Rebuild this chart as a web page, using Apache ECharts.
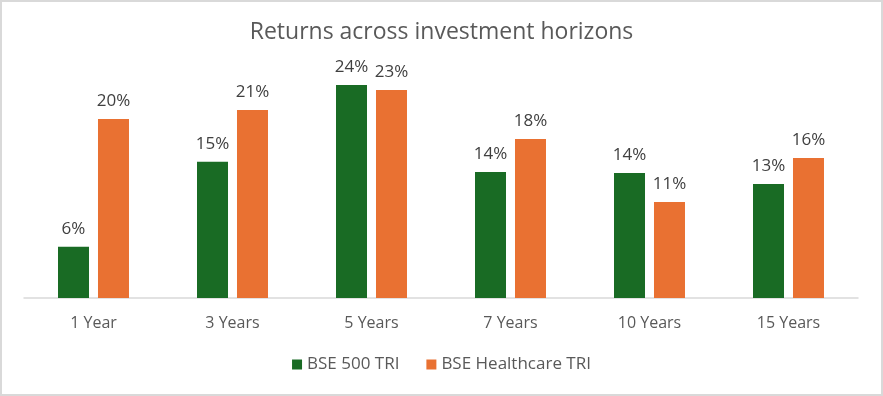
<!DOCTYPE html>
<html>
<head>
<meta charset="utf-8">
<script src="https://cdn.jsdelivr.net/npm/echarts@6/dist/echarts.min.js"></script>
<style>
html,body{margin:0;padding:0;background:#fff;}
#c{width:883px;height:396px;}
</style>
</head>
<body>
<div id="c"></div>
<script>
const categories = ['1 Year', '3 Years', '5 Years', '7 Years', '10 Years', '15 Years'];
const bse500 = [5.73, 15.23, 23.8, 14.08, 13.97, 12.74];
const healthcare = [20.0, 21.0, 23.24, 17.77, 10.73, 15.64];
const seriesNames = ['BSE 500 TRI', 'BSE Healthcare TRI'];
const titleText = 'Returns across investment horizons';

const FONT = '"Open Sans", "Liberation Sans", sans-serif';
const chart = echarts.init(document.getElementById('c'));
const labelCfg = {
  show: true, position: 'top', distance: 9,
  color: '#404040', fontSize: 17, fontFamily: FONT,
  formatter: p => Math.round(p.value) + '%'
};
chart.setOption({
  animation: false,
  backgroundColor: '#fff',
  title: {
    text: titleText, left: 'center', top: 16,
    textStyle: {color: '#595959', fontSize: 23, fontWeight: 'normal', fontFamily: FONT}
  },
  legend: {
    data: seriesNames, bottom: 18, left: 'center',
    itemWidth: 10, itemHeight: 10, itemGap: 27, icon: 'rect',
    textStyle: {color: '#595959', fontSize: 17, fontFamily: FONT}
  },
  grid: {left: 24, right: 25, top: 74.25, bottom: 98, containLabel: false},
  xAxis: {
    type: 'category', data: categories,
    axisLine: {lineStyle: {color: '#d9d9d9', width: 1.5}},
    axisTick: {show: false},
    axisLabel: {color: '#595959', fontSize: 16, fontFamily: FONT, margin: 17}
  },
  yAxis: {type: 'value', min: 0, max: 25, show: false, splitLine: {show: false}},
  graphic: [{
    type: 'rect', shape: {x: 1, y: 1, width: 881, height: 394},
    style: {fill: 'none', stroke: '#d9d9d9', lineWidth: 2}, silent: true, z: -1
  }],
  series: [
    {name: seriesNames[0], type: 'bar', data: bse500, barWidth: 31, barGap: '29%',
     itemStyle: {color: '#196B24'}, label: labelCfg},
    {name: seriesNames[1], type: 'bar', data: healthcare, barWidth: 31, barGap: '29%',
     itemStyle: {color: '#E97132'}, label: labelCfg}
  ]
});
</script>
</body>
</html>
